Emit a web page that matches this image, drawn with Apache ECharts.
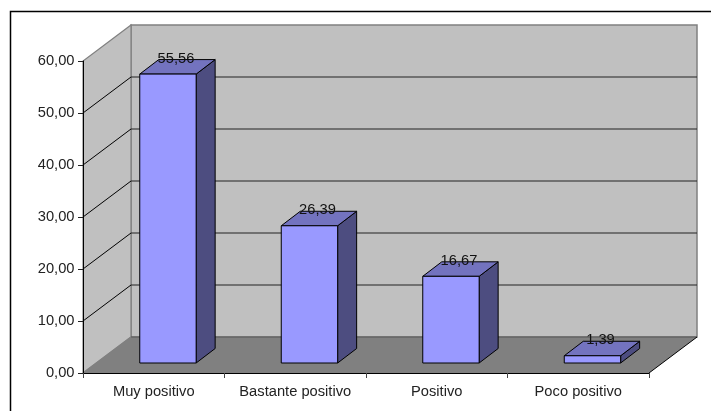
<!DOCTYPE html>
<html><head><meta charset="utf-8">
<style>html,body{margin:0;padding:0;background:#fff}#c{width:711px;height:411px}</style>
<script src="https://cdn.jsdelivr.net/npm/echarts@6/dist/echarts.min.js"></script>
</head><body><div id="c"></div>
<script>
const categories = ['Muy positivo','Bastante positivo','Positivo','Poco positivo'];
const values = [55.56,26.39,16.67,1.39];
const valueLabels = ['55,56','26,39','16,67','1,39'];
const ticks = [0,10,20,30,40,50,60];

const DX=48, DY=36, BAR_W=56.4, BAR_DX=14.2, BAR_DY=10, BAR_DDX=19, BAR_DDY=14.5;
const FONT='"Liberation Sans",Arial,sans-serif';
const chart=echarts.init(document.getElementById('c'),null,{renderer:'canvas'});

function wallItem(params,api){
  const w=api.size([1,0])[0];
  const x0=api.coord([0,0])[0]-w/2, x1=api.coord([categories.length-1,0])[0]+w/2;
  const y0=api.coord([0,0])[1], yT=api.coord([0,60])[1];
  const poly=(pts,fill,stroke,lw)=>({type:'polygon',shape:{points:pts},style:{fill:fill,stroke:stroke,lineWidth:lw||1}});
  const line=(a,b,c,lw)=>({type:'line',shape:{x1:a[0],y1:a[1],x2:b[0],y2:b[1]},style:{stroke:c,lineWidth:lw||1}});
  const kids=[
    poly([[x0+DX,yT-DY],[x1+DX,yT-DY],[x1+DX,y0-DY],[x0+DX,y0-DY]],'#C0C0C0','#808080',1.5),
    poly([[x0,y0],[x0+DX,y0-DY],[x0+DX,yT-DY],[x0,yT]],'#C0C0C0','#808080',1.2),
    poly([[x0,y0],[x1,y0],[x1+DX,y0-DY],[x0+DX,y0-DY]],'#808080',null,0)
  ];
  kids.push(line([x0+DX,y0-DY],[x1+DX,y0-DY],'#555',1.2));
  kids.push(line([x0,y0],[x0+DX,y0-DY],'#808080',1.2));
  kids.push(line([x1,y0],[x1+DX,y0-DY],'#000',1));
  ticks.forEach(t=>{
    if(t===0||t===60) return;
    const y=api.coord([0,t])[1];
    kids.push(line([x0,y],[x0+DX,y-DY],'#000',1));
    kids.push(line([x0+DX,y-DY],[x1+DX,y-DY],'#222',1));
  });
  return {type:'group',children:kids};
}
function barItem(params,api){
  const c=api.value(0), v=api.value(1);
  const cx=api.coord([c,0])[0]+BAR_DX, yb=api.coord([c,0])[1]-BAR_DY, yt=api.coord([c,v])[1]-BAR_DY;
  const l=cx-BAR_W/2, r=cx+BAR_W/2;
  const st=(f)=>({fill:f,stroke:'#000',lineWidth:1});
  return {type:'group',children:[
    {type:'polygon',shape:{points:[[r,yb],[r+BAR_DDX,yb-BAR_DDY],[r+BAR_DDX,yt-BAR_DDY],[r,yt]]},style:st('#4D4D80')},
    {type:'polygon',shape:{points:[[l,yt],[r,yt],[r+BAR_DDX,yt-BAR_DDY],[l+BAR_DDX,yt-BAR_DDY]]},style:st('#7373BF')},
    {type:'rect',shape:{x:l,y:yt,width:BAR_W,height:yb-yt},style:st('#9999FF')},
    {type:'text',style:{x:cx+8,y:yt-15.5,text:valueLabels[params.dataIndex],fill:'#111',font:'14.7px '+FONT,align:'center',verticalAlign:'middle'}}
  ]};
}
chart.setOption({
  animation:false,
  backgroundColor:'#fff',
  graphic:[{type:'rect',silent:true,z:-1,shape:{x:10.5,y:11.5,width:720,height:420},style:{fill:'#fff',stroke:'#000',lineWidth:1.5}}],
  grid:{left:83,right:62,top:61,bottom:38},
  xAxis:{type:'category',data:categories,z:10,
    axisLine:{show:true,lineStyle:{color:'#000',width:1}},
    axisTick:{show:true,length:5,alignWithLabel:false,lineStyle:{color:'#444'}},
    axisLabel:{color:'#222',fontFamily:'Liberation Sans',fontSize:14.7,margin:11,interval:0},
    splitLine:{show:false}},
  yAxis:{type:'value',min:0,max:60,interval:10,z:10,
    axisLine:{show:true,lineStyle:{color:'#000',width:1}},
    axisTick:{show:true,length:5,lineStyle:{color:'#222'}},
    axisLabel:{color:'#222',fontFamily:'Liberation Sans',fontSize:14.7,margin:8.5,formatter:v=>v.toFixed(2).replace('.',',')},
    splitLine:{show:false}},
  series:[
    {type:'custom',z:1,silent:true,clip:false,coordinateSystem:'cartesian2d',renderItem:wallItem,data:[[0,0]]},
    {type:'custom',z:2,silent:true,clip:false,coordinateSystem:'cartesian2d',renderItem:barItem,
      data:values.map((v,i)=>[i,v]),encode:{x:0,y:1}}
  ]
});
</script></body></html>
